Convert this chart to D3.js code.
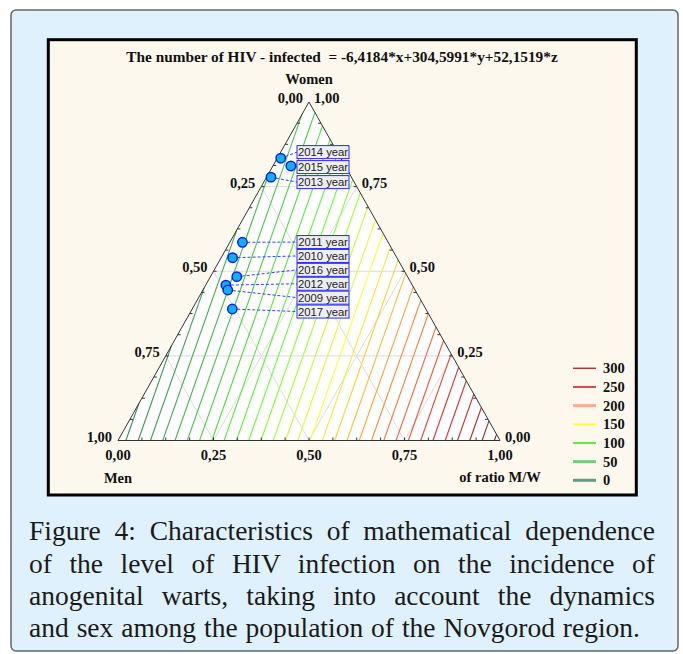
<!DOCTYPE html>
<html><head><meta charset="utf-8">
<script src="https://cdn.jsdelivr.net/npm/d3@7"></script>
<style>
body{margin:0;background:#fff;}
#wrap{position:relative;width:683px;height:654px;overflow:hidden;}
svg{position:absolute;left:0;top:0;}
.cap{position:absolute;left:29px;font-family:"Liberation Serif","Times New Roman",serif;color:#1a1a1a;white-space:nowrap;text-align:justify;text-align-last:justify;}
</style></head><body>
<div id="wrap"><svg id="chart" width="683" height="654"></svg></div>
<script>
// ---- data ----
const coefficients = [-6.4184, 304.5991, 52.1519]; // x = Men (left), y = of ratio M/W (right), z = Women (apex)
const contourLevels = [0,10,20,30,40,50,60,70,80,90,100,110,120,130,140,150,160,170,180,190,200,210,220,230,240,250,260,270,280,290,300];
const legendLevels = [300,250,200,150,100,50,0];
const years = ["2014 year","2015 year","2013 year","2011 year","2010 year","2016 year","2012 year","2009 year","2017 year"];
const men   = [0.157,0.142,0.2105,0.3815,0.430,0.447,0.488,0.4904,0.5065];
const ratio = [0.009,0.047,0.0115,0.033,0.030,0.069,0.053,0.065,0.105];
const women = [0.834,0.811,0.778,0.5855,0.540,0.484,0.459,0.4446,0.3885];
const tickValues = [0,0.25,0.5,0.75,1];
const tickLabels = ["0,00","0,25","0,50","0,75","1,00"];
const titleText = "The number of HIV - infected  = -6,4184*x+304,5991*y+52,1519*z";
const captionLines = [
  "Figure 4: Characteristics of mathematical dependence",
  "of the level of HIV infection on the incidence of",
  "anogenital warts, taking into account the dynamics",
  "and sex among the population of the Novgorod region."
];

// ---- styles ----
const levelColors = ["#9a2020","#e83232","#ff8c3c","#ffff33","#66ff33","#4cc44c","#3a8a55"];
const legendColors = ["#a33a3a","#c85050","#ffaa8a","#ffff33","#66e544","#77cc77","#5c9c84"];
const legendWidths = [1.5,2,3,2,2,3,3];
const serif = "'Liberation Serif','Times New Roman',serif";

const svg = d3.select("#chart");
svg.append("rect").attr("x",11).attr("y",10).attr("width",667).attr("height",641).attr("rx",5)
  .attr("fill","#dff1fc").attr("stroke","#666").attr("stroke-width",1.5);
svg.append("rect").attr("x",48.3).attr("y",39.7).attr("width",588).attr("height",455.3)
  .attr("fill","#fdf8ee").attr("stroke","#000").attr("stroke-width",3);

const sx = d3.scaleLinear().domain([0,1]).range([118,500]);
const sy = d3.scaleLinear().domain([0,1]).range([440.5,102]);
const P = (b,c) => [sx(b + c/2), sy(c)];
const line = d3.line();

// triangle background
svg.append("path").attr("d", line([P(0,0),P(1,0),P(0,1)]) + "Z").attr("fill","#fff");

// grid
const grid = svg.append("g").attr("stroke","#dcdcdc").attr("stroke-width",1).attr("fill","none");
[0.25,0.5,0.75].forEach(k=>{
  grid.append("path").attr("d", line([P(0,k),P(1-k,k)]));
  grid.append("path").attr("d", line([P(k,0),P(k,1-k)]));
  grid.append("path").attr("d", line([P(1-k,0),P(0,1-k)]));
});

// contours
const color = d3.scaleLinear().domain(legendLevels).range(levelColors);
const verts = [{b:0,c:0},{b:1,c:0},{b:0,c:1}];
const f = p => coefficients[0]*(1-p.b-p.c) + coefficients[1]*p.b + coefficients[2]*p.c;
function segment(v){
  const pts=[];
  [[0,1],[1,2],[2,0]].forEach(([i,j])=>{
    const p=verts[i], q=verts[j], fp=f(p), fq=f(q);
    if (fp!==fq && (v-fp)*(v-fq)<=0){
      const t=(v-fp)/(fq-fp);
      pts.push({b:p.b+t*(q.b-p.b), c:p.c+t*(q.c-p.c)});
    }
  });
  return pts.slice(0,2);
}
svg.append("g").attr("fill","none").selectAll("path").data(contourLevels).join("path")
  .attr("d", v=>{const s=segment(v); return s.length===2 ? line(s.map(p=>P(p.b,p.c))) : null;})
  .attr("stroke", v=>color(v)).attr("stroke-width",1.1);

// ticks every 1/16
const ticks = svg.append("g").attr("stroke","#333").attr("stroke-width",1);
d3.range(1,16).map(i=>i/16).forEach(t=>{
  const a = P(t,0); ticks.append("line").attr("x1",a[0]).attr("y1",a[1]).attr("x2",a[0]).attr("y2",a[1]-3);
  const l = P(0,t); ticks.append("line").attr("x1",l[0]).attr("y1",l[1]).attr("x2",l[0]+3).attr("y2",l[1]);
  const r = P(1-t,t); ticks.append("line").attr("x1",r[0]).attr("y1",r[1]).attr("x2",r[0]-3).attr("y2",r[1]);
});

// triangle outline
svg.append("path").attr("d", line([P(0,0),P(1,0),P(0,1)]) + "Z").attr("fill","none").attr("stroke","#333").attr("stroke-width",1);

// tick labels
const tl = svg.append("g").attr("font-family",serif).attr("font-weight","bold").attr("font-size","14.5px").attr("fill","#111");
tickValues.forEach((c,i)=>{
  const p = P(0,c);
  tl.append("text").attr("x",p[0]-6).attr("y",p[1]+1).attr("text-anchor","end").text(tickLabels[4-i]);
  const q = P(1-c,c);
  tl.append("text").attr("x",q[0]+5).attr("y",q[1]+1).attr("text-anchor","start").text(tickLabels[i]);
  const b = P(c,0);
  tl.append("text").attr("x",b[0]).attr("y",459.5).attr("text-anchor","middle").text(tickLabels[i]);
});
tl.append("text").attr("x",sx(0.5)).attr("y",84).attr("text-anchor","middle").text("Women");
tl.append("text").attr("x",sx(0)).attr("y",482.5).attr("text-anchor","middle").text("Men");
tl.append("text").attr("x",sx(1)).attr("y",482).attr("text-anchor","middle").text("of ratio M/W");
tl.append("text").attr("x",342).attr("y",61.5).attr("text-anchor","middle").attr("font-size","15.3px")
  .style("white-space","pre").text(titleText);

// points, labels
const pts = years.map((y,i)=>{const p=P(ratio[i],women[i]); return {year:y, x:p[0], y:p[1]};});
function stack(list, gap){
  list.sort((a,b)=>a.y-b.y);
  let blocks = list.map(d=>({items:[d], mean:d.y}));
  let changed=true;
  while(changed){
    changed=false;
    for(let i=0;i<blocks.length-1;i++){
      const A=blocks[i], B=blocks[i+1];
      const aBottom = A.mean + (A.items.length-1)*gap/2;
      const bTop = B.mean - (B.items.length-1)*gap/2;
      if (bTop - aBottom < gap){
        const items = A.items.concat(B.items);
        blocks.splice(i,2,{items, mean:d3.mean(items,d=>d.y)});
        changed=true; break;
      }
    }
  }
  blocks.forEach(bl=>bl.items.forEach((d,k)=>{d.ly = bl.mean + (k-(bl.items.length-1)/2)*gap;}));
}
stack(pts.filter(d=>d.y<210), 15);
stack(pts.filter(d=>d.y>=210), 13.9);

const boxX = 297, boxW = 52, boxH = 13;
const lab = svg.append("g");
lab.selectAll("line").data(pts).join("line")
  .attr("x1",d=>d.x).attr("y1",d=>d.y).attr("x2",boxX).attr("y2",d=>d.ly)
  .attr("stroke","#3040ff").attr("stroke-width",1).attr("stroke-dasharray","3,2");
lab.selectAll("rect").data(pts).join("rect")
  .attr("x",boxX).attr("y",d=>d.ly-boxH/2).attr("width",boxW).attr("height",boxH)
  .attr("fill","#eeeef0").attr("stroke","#2a2aff").attr("stroke-width",1);
lab.selectAll("text").data(pts).join("text")
  .attr("x",boxX+boxW/2).attr("y",d=>d.ly+4.2).attr("text-anchor","middle")
  .attr("font-family","'Liberation Sans',Arial,sans-serif").attr("font-size","11.3px").attr("fill","#222")
  .text(d=>d.year);
lab.selectAll("circle").data(pts).join("circle")
  .attr("cx",d=>d.x).attr("cy",d=>d.y).attr("r",4.7)
  .attr("fill","#12b0f2").attr("stroke","#1020e0").attr("stroke-width",1.5);

// legend
const ly = d3.scalePoint().domain(legendLevels).range([368.3,480.3]);
const lg = svg.append("g");
legendLevels.forEach((v,i)=>{
  lg.append("line").attr("x1",573).attr("x2",596).attr("y1",ly(v)).attr("y2",ly(v))
    .attr("stroke",legendColors[i]).attr("stroke-width",legendWidths[i]);
  lg.append("text").attr("x",603).attr("y",ly(v)+5).attr("font-family",serif).attr("font-weight","bold")
    .attr("font-size","14.5px").attr("fill","#111").text(v);
});

// caption
const wrap = d3.select("#wrap");
const capWidths = [626,626,626,611];
const capBase = [541,573.5,606,638];
let fs = 28;
const ctx = document.createElement("canvas").getContext("2d");
function w(t,s){ctx.font = s+"px 'Liberation Serif'"; return ctx.measureText(t).width;}
while (fs>18 && captionLines.some((t,i)=>w(t,fs)>capWidths[i]-2)) fs -= 0.5;
captionLines.forEach((t,i)=>{
  wrap.append("div").attr("class","cap")
    .style("width",capWidths[i]+"px").style("font-size",fs+"px").style("line-height",fs+"px")
    .style("top",(capBase[i]-fs*0.86)+"px").text(t);
});
</script>
</body></html>
